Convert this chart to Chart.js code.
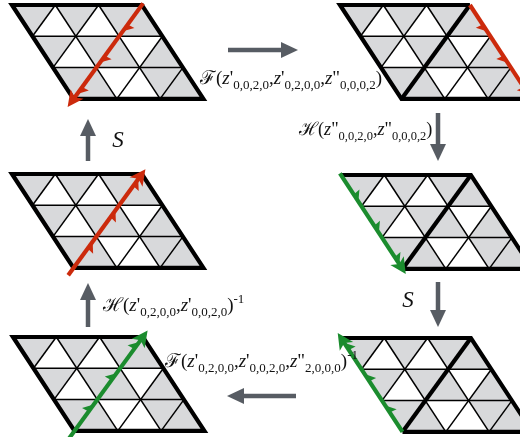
<!DOCTYPE html>
<html>
<head>
<meta charset="utf-8">
<script src="https://cdn.jsdelivr.net/npm/chart.js@4.4.0/dist/chart.umd.min.js"></script>
<style>
  html, body { margin: 0; padding: 0; background: #fff; }
  #wrap { width: 520px; height: 437px; }
</style>
</head>
<body>
<div id="wrap"><canvas id="diagram"></canvas></div>
<script>
// every panel is a 3 x 3 patch of rhombic cells, each cut into a down and an up triangle
const cols = 3;
const rows = 3;
// gray triangles, one list per row, left to right (1 = gray)
const grayDown = [[1, 1, 1], [1, 1, 0], [1, 0, 1]];
const grayUp = [[0, 0, 1], [0, 1, 1], [1, 0, 1]];

// the six panels, read row by row
const panels = ['topLeft', 'topRight', 'midLeft', 'midRight', 'botLeft', 'botRight'];
const cutAlongDiagonal = [false, true, false, true, false, true];
// coloured arrow of each panel, lattice vertex [i, j] from -> to
const arrowFrom = [[3, 0], [3, 0], [0, 3], [0, 0], [0, 3], [0, 3]];
const arrowTo = [[0, 3], [3, 3], [3, 0], [0, 3], [3, 0], [0, 0]];
const arrowKind = ['red', 'red', 'red', 'green', 'green', 'green'];
const flagSide = [1, -1, -1, 1, 1, -1];

// maps between the panels
const mapLabels = [
    "ℱ(z'_{0,0,2,0},z'_{0,2,0,0},z\"_{0,0,0,2})",
    "ℋ(z\"_{0,0,2,0},z\"_{0,0,0,2})",
    'S',
    'S',
    "ℋ(z'_{0,2,0,0},z'_{0,0,2,0})^{-1}",
    "ℱ(z'_{0,2,0,0},z'_{0,0,2,0},z\"_{2,0,0,0})^{-1}"
];

// layout (pixels of the 520 x 437 picture)
const layout = {
    panelX: [12, 340, 12, 341, 13, 341],
    panelY: [5, 5, 174, 175, 337, 338],
    cellW: 43.3,
    shift: 20.5,
    rowH: 31.3,
    tailExt: [2, 0, 9, 2, 9, 0],
    headExt: [10, 10, 6, 6, 8, 6],
    mapArrows: [[228, 50, 298, 50], [438, 113, 438, 161], [88, 161, 88, 119],
                [438, 282, 438, 327], [88, 327, 88, 283], [296, 396, 227, 396]],
    labelPos: [[200, 84], [299, 135], [118, 147], [408, 307], [103, 311], [165, 367]],
    labelScale: [1, 0.96, 1, 1, 1, 1]
};

const colors = {
    gray: '#d8d9db',
    red: '#cc2a0c',
    green: '#1b8c2e',
    map: '#575c63',
    ink: '#000000'
};

function vertex(p, i, j) {
    return {
        x: layout.panelX[p] + i * layout.cellW + j * layout.shift,
        y: layout.panelY[p] + j * layout.rowH
    };
}

function along(a, u, d) {
    return { x: a.x + u.x * d, y: a.y + u.y * d };
}

var datasets = [];

function polygon(points, color, order) {
    datasets.push({
        data: points.concat([points[0]]),
        fill: 'shape',
        backgroundColor: color,
        borderWidth: 0,
        borderColor: 'rgba(0,0,0,0)',
        pointRadius: 0,
        order: order
    });
}

function polyline(points, width, color, order, cap) {
    datasets.push({
        data: points,
        fill: false,
        borderColor: color,
        borderWidth: width,
        borderCapStyle: cap || 'butt',
        borderJoinStyle: 'miter',
        pointRadius: 0,
        order: order
    });
}

function arrowHead(tip, u, len, half, notch, color, order) {
    var back = along(tip, u, -len);
    var n = { x: -u.y, y: u.x };
    polygon([
        tip,
        along(back, n, half),
        along(tip, u, -len + notch),
        along(back, n, -half)
    ], color, order);
}

panels.forEach(function (name, p) {
    // gray triangles
    for (var j = 0; j < rows; j++) {
        for (var i = 0; i < cols; i++) {
            if (grayDown[j][i]) {
                polygon([vertex(p, i, j), vertex(p, i + 1, j), vertex(p, i, j + 1)], colors.gray, 9);
            }
            if (grayUp[j][i]) {
                polygon([vertex(p, i + 1, j), vertex(p, i + 1, j + 1), vertex(p, i, j + 1)], colors.gray, 9);
            }
        }
    }
    // thin lattice lines
    for (var j = 1; j < rows; j++) {
        polyline([vertex(p, 0, j), vertex(p, cols, j)], 1.5, colors.ink, 8);
    }
    for (var i = 1; i < cols; i++) {
        polyline([vertex(p, i, 0), vertex(p, i, rows)], 1.5, colors.ink, 8);
    }
    for (var k = 1; k < cols + rows; k++) {
        var pts = [];
        for (var j = 0; j <= rows; j++) {
            var i = k - j;
            if (i >= 0 && i <= cols) pts.push(vertex(p, i, j));
        }
        if (pts.length > 1) polyline([pts[0], pts[pts.length - 1]], 1.5, colors.ink, 8);
    }

    // thick outline, leaving out the edge that carries the arrow
    var a = arrowFrom[p], b = arrowTo[p];
    var onRight = a[0] === cols && b[0] === cols;
    var onLeft = a[0] === 0 && b[0] === 0;
    var c00 = vertex(p, 0, 0), c30 = vertex(p, cols, 0), c33 = vertex(p, cols, rows), c03 = vertex(p, 0, rows);
    if (onRight) {
        polyline([c33, c03, c00, c30], 4.2, colors.ink, 7);
    } else if (onLeft) {
        polyline([c00, c30, c33, c03], 4.2, colors.ink, 7);
    } else {
        polyline([c00, c30, c33, c03, c00, c30], 4.2, colors.ink, 7);
    }
    if (cutAlongDiagonal[p]) {
        polyline([c30, c03], 4.2, colors.ink, 7);
    }

    // coloured arrow with its flags
    var col = colors[arrowKind[p]];
    var s = vertex(p, a[0], a[1]), e = vertex(p, b[0], b[1]);
    var L = Math.hypot(e.x - s.x, e.y - s.y);
    var u = { x: (e.x - s.x) / L, y: (e.y - s.y) / L };
    var n = { x: u.y * flagSide[p], y: -u.x * flagSide[p] };
    var tip = along(e, u, layout.headExt[p]);
    polyline([along(s, u, -layout.tailExt[p]), along(tip, u, -10)], 4.2, col, 3);
    arrowHead(tip, u, 16, 8, 4, col, 2);
    for (var f = 0; f < 3; f++) {
        var q = along(s, u, L * (f + 0.62) / 3);
        polygon([q, along(q, u, 8.5), along(along(q, u, -1), n, 7.5)], col, 2);
    }
});

// gray arrows between the panels
layout.mapArrows.forEach(function (m) {
    var s = { x: m[0], y: m[1] }, e = { x: m[2], y: m[3] };
    var L = Math.hypot(e.x - s.x, e.y - s.y);
    var u = { x: (e.x - s.x) / L, y: (e.y - s.y) / L };
    polyline([s, along(e, u, -14)], 4.5, colors.map, 4);
    arrowHead(e, u, 17, 8, 0, colors.map, 4);
});

// math labels: z italic, _{..} subscript, ^{..} superscript
function tokens(src) {
    var out = [];
    var i = 0;
    while (i < src.length) {
        var c = src[i];
        if ((c === '_' || c === '^') && src[i + 1] === '{') {
            var end = src.indexOf('}', i);
            out.push({ t: src.slice(i + 2, end), kind: c === '_' ? 'sub' : 'sup' });
            i = end + 1;
        } else {
            out.push({ t: c, kind: c === 'z' ? 'it' : 'rm' });
            i++;
        }
    }
    return out;
}

const labelPlugin = {
    id: 'labels',
    afterDatasetsDraw: function (chart) {
        var ctx = chart.ctx;
        var xs = chart.scales.x, ys = chart.scales.y;
        ctx.save();
        ctx.fillStyle = '#111';
        ctx.textBaseline = 'alphabetic';
        mapLabels.forEach(function (text, k) {
            var x = xs.getPixelForValue(layout.labelPos[k][0]);
            var y = ys.getPixelForValue(layout.labelPos[k][1]);
            var sc = layout.labelScale[k];
            if (text === 'S') {
                ctx.font = 'italic 23px "Liberation Serif", serif';
                ctx.textAlign = 'center';
                ctx.fillText(text, x, y);
                return;
            }
            ctx.textAlign = 'left';
            tokens(text).forEach(function (tk) {
                var dy = 0;
                if (tk.kind === 'sub') {
                    ctx.font = (13 * sc) + 'px "Liberation Serif", serif';
                    dy = 5;
                } else if (tk.kind === 'sup') {
                    ctx.font = (13 * sc) + 'px "Liberation Serif", serif';
                    dy = -8;
                } else if (tk.kind === 'it') {
                    ctx.font = 'italic ' + (19 * sc) + 'px "Liberation Serif", serif';
                } else {
                    ctx.font = (19 * sc) + 'px "Liberation Serif", "DejaVu Serif", serif';
                }
                ctx.fillText(tk.t, x, y + dy);
                x += ctx.measureText(tk.t).width;
            });
        });
        ctx.restore();
    }
};

function createDiagram() {
    var ctx = document.getElementById('diagram').getContext('2d');
    new Chart(ctx, {
        type: 'line',
        data: { datasets: datasets },
        options: {
            animation: false,
            responsive: true,
            maintainAspectRatio: false,
            events: [],
            layout: { padding: 0 },
            plugins: {
                legend: { display: false },
                tooltip: { enabled: false }
            },
            elements: { line: { tension: 0 }, point: { radius: 0 } },
            scales: {
                x: { type: 'linear', min: 0, max: 520, display: false },
                y: { type: 'linear', min: 0, max: 437, reverse: true, display: false }
            }
        },
        plugins: [labelPlugin]
    });
}

document.addEventListener("DOMContentLoaded", function () {
    createDiagram();
});
</script>
</body>
</html>
